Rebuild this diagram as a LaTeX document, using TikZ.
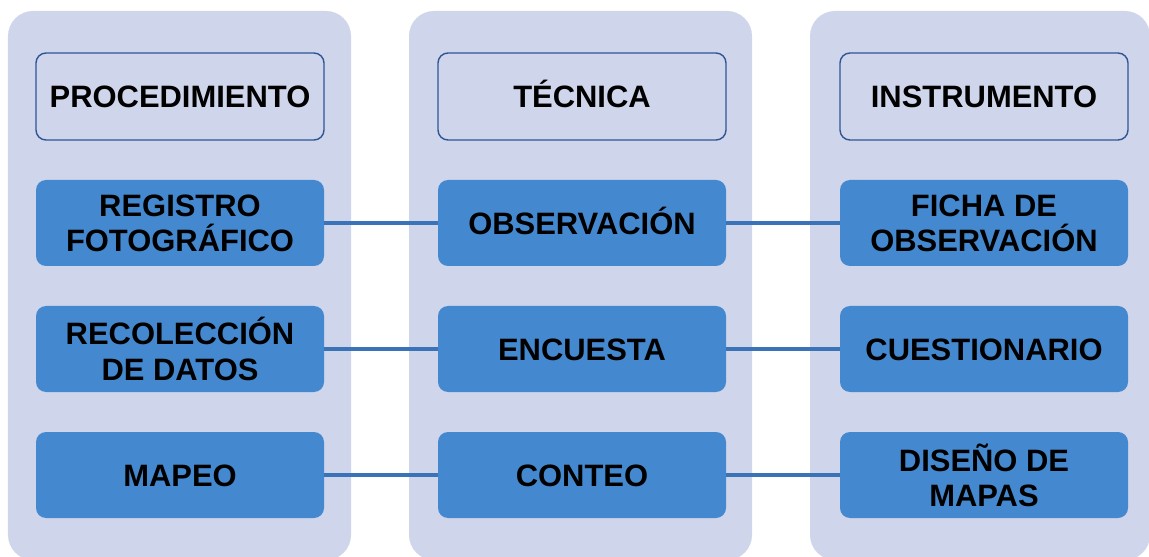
\documentclass[tikz,border=0pt]{standalone}
\usepackage{fontspec}
\setmainfont{Liberation Sans}
\usetikzlibrary{positioning}
\definecolor{panelbg}{HTML}{CFD5EA}
\definecolor{boxblue}{HTML}{4489D0}
\definecolor{edgeblue}{HTML}{2F5597}
\definecolor{linkblue}{HTML}{3B73B9}
\begin{document}
\begin{tikzpicture}[
    node distance=1cm and 2.85cm,
    panel/.style={fill=panelbg, rounded corners=0.625cm},
    header/.style={rectangle, draw=edgeblue, line width=1pt, outer sep=0pt, rounded corners=0.25cm, minimum width=7.2cm, minimum height=2.175cm, align=center, text height=15.8pt, text depth=0pt, font=\fontsize{22}{25}\selectfont\bfseries},
    item/.style={rectangle, fill=boxblue, outer sep=0pt, rounded corners=0.25cm, minimum width=7.2cm, minimum height=2.15cm, align=center, font=\fontsize{22}{25}\selectfont\bfseries},
    oneline/.style={text height=15.8pt, text depth=0pt},
    link/.style={draw=linkblue, line width=2.4pt}
]
    \useasboundingbox (0,0) rectangle (28.725,-13.925);
    % Column panels
    \fill [panel] (0.2,-0.275) rectangle (8.775,-14.0);
    \fill [panel] (10.225,-0.275) rectangle (18.8,-14.0);
    \fill [panel] (20.25,-0.275) rectangle (28.75,-14.0);

    % Headers
    \node [header] (h1) at (4.5,-2.4125) {PROCEDIMIENTO};
    \node [header, right=2.85cm of h1] (h2) {TÉCNICA};
    \node [header, right=2.85cm of h2] (h3) {INSTRUMENTO};

    % Procedimiento
    \node [item, below=1cm of h1] (p1) {REGISTRO\\FOTOGRÁFICO};
    \node [item, below=1cm of p1] (p2) {RECOLECCIÓN\\DE DATOS};
    \node [item, oneline, below=1cm of p2] (p3) {MAPEO};

    % Tecnica
    \node [item, oneline, below=1cm of h2] (t1) {OBSERVACIÓN};
    \node [item, oneline, below=1cm of t1] (t2) {ENCUESTA};
    \node [item, oneline, below=1cm of t2] (t3) {CONTEO};

    % Instrumento
    \node [item, below=1cm of h3] (i1) {FICHA DE\\OBSERVACIÓN};
    \node [item, oneline, below=1cm of i1] (i2) {CUESTIONARIO};
    \node [item, below=1cm of i2] (i3) {DISEÑO DE\\MAPAS};

    % Links
    \draw [link] (p1) -- (t1);
    \draw [link] (t1) -- (i1);
    \draw [link] (p2) -- (t2);
    \draw [link] (t2) -- (i2);
    \draw [link] (p3) -- (t3);
    \draw [link] (t3) -- (i3);
\end{tikzpicture}
\end{document}
